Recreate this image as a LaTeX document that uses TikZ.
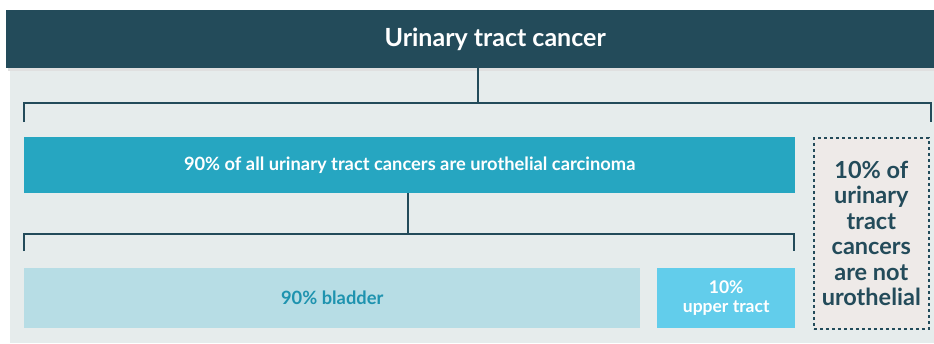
\documentclass[tikz,border=0pt]{standalone}
\usepackage{fontspec}
\setmainfont{Lato}
\definecolor{panel}{HTML}{E6ECEC}
\definecolor{dark}{HTML}{234B5A}
\definecolor{teal}{HTML}{26A6C1}
\definecolor{bladder}{HTML}{B7DDE5}
\definecolor{bladdertxt}{HTML}{1E93AF}
\definecolor{upper}{HTML}{62CDEB}
\definecolor{other}{HTML}{EEEAE8}
\tikzset{
  box/.style={draw=none, minimum height=#1, inner sep=0pt, anchor=north west},
  conn/.style={draw=dark, line width=1.6pt},
}
\begin{document}
\begin{tikzpicture}[x=1pt,y=-1pt]
\useasboundingbox (0,0) rectangle (934,343);
\fill[white] (0,0) rectangle (934,343);
\fill[panel] (10,20) rectangle (934,343);
% header shadow
\fill[black!12] (8,68) rectangle (934,71);
\begin{scope}
\clip (0,0) rectangle (934,343);
\node[box=58pt, fill=dark, minimum width=978pt, text=white, font=\bfseries\fontsize{25}{28}\selectfont] (head) at (6,10) {Urinary tract cancer};
\end{scope}
\node[box=56pt, fill=teal, minimum width=771pt, text=white, font=\bfseries\fontsize{18.3}{20}\selectfont] (uro) at (24,137) {90\% of all urinary tract cancers are urothelial carcinoma};
\node[box=60pt, fill=bladder, minimum width=616pt, text=bladdertxt, font=\bfseries\fontsize{18.3}{20}\selectfont] (blad) at (24,268) {90\% bladder};
\node[box=60pt, fill=upper, minimum width=138pt, text=white, align=center, font=\bfseries\fontsize{17.5}{19}\selectfont] (upt) at (657,268) {10\%\\upper tract};
\node[box=191pt, fill=other, minimum width=115pt, draw=dark, line width=1.6pt, dash pattern=on 3pt off 3pt, text=dark, align=center, font=\bfseries\fontsize{23.5}{25.5}\selectfont] (non) at (813,137) {10\% of\\urinary\\tract\\cancers\\are not\\urothelial};
% connectors
\coordinate (b1) at (478,103);
\draw[conn] (head.south -| b1) -- (b1);
\draw[conn] (24,122) -- (24,103) -- (931,103) -- (931,122);
\coordinate (b2) at (408,234);
\draw[conn] (uro.south -| b2) -- (b2);
\draw[conn] (24,251) -- (24,234) -- (794,234) -- (794,251);
\end{tikzpicture}
\end{document}
